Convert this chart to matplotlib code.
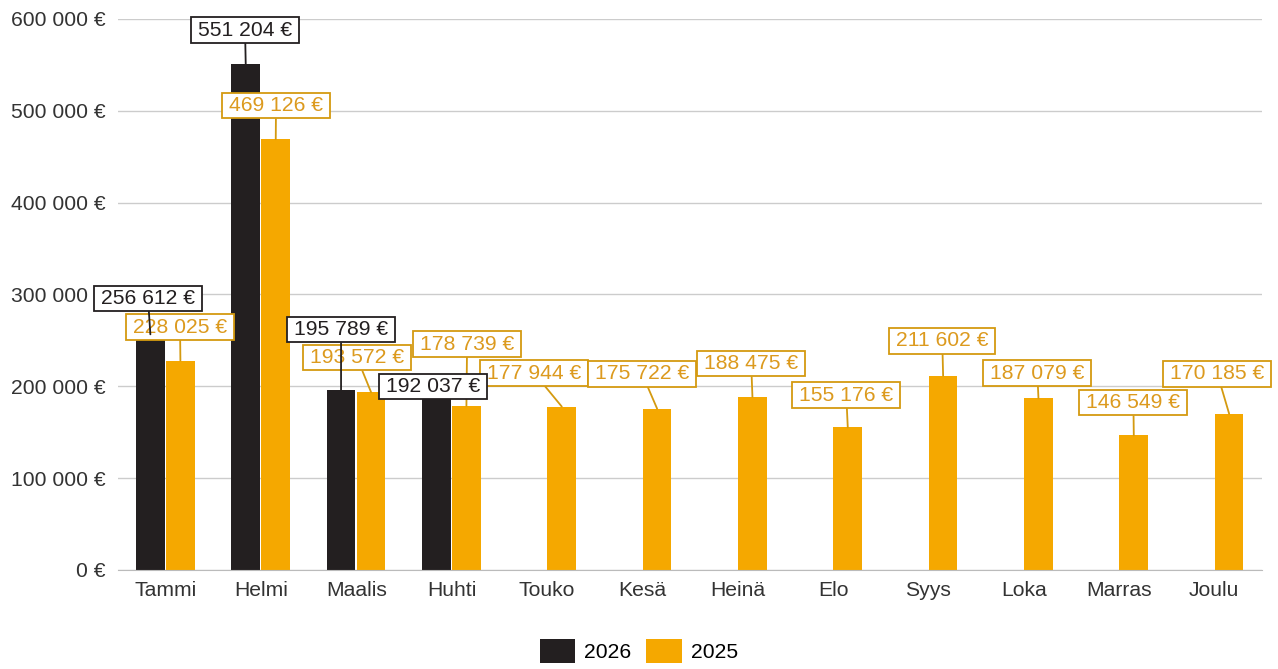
import numpy as np
import matplotlib
matplotlib.use("Agg")
from matplotlib import pyplot as plt

months = ["Tammi", "Helmi", "Maalis", "Huhti", "Touko", "Kesä",
          "Heinä", "Elo", "Syys", "Loka", "Marras", "Joulu"]
sales2026 = [256612, 551204, 195789, 192037]
sales2025 = [228025, 469126, 193572, 178739, 177944, 175722,
             188475, 155176, 211602, 187079, 146549, 170185]
yticks = [0, 100000, 200000, 300000, 400000, 500000, 600000]

# where the value boxes sit (x in category units, y in euros)
pos2026 = [(-0.185, 296000), (0.833, 588000), (1.84, 261500), (2.805, 199500)]
pos2025 = [(0.151, 264500), (1.158, 505500), (2.008, 231000), (3.162, 246000),
           (3.865, 214500), (4.998, 213500), (6.142, 224500), (7.139, 190500),
           (8.146, 249500), (9.143, 214500), (10.151, 182000), (11.032, 213500)]

BLACK = "#231f20"
ORANGE = "#f5a800"
ORANGE_TXT = "#dc9a1e"
FS = 15.2


def fmt(v):
    return "{:,}".format(v).replace(",", " ") + " €"


plt.rcParams['font.family'] = ['Liberation Sans', 'DejaVu Sans']

fig = plt.figure(figsize=(12.78, 6.69), dpi=100)
ax = fig.add_axes([0.0923, 0.148, 0.8952, 0.8236])

x = np.arange(len(months))
w = 0.3
ax.bar(x[:len(sales2026)] - 0.16, sales2026, w, color=BLACK, label="2026", zorder=2)
ax.bar(x + 0.155, sales2025, w, color=ORANGE, label="2025", zorder=2)

ax.set_xlim(-0.5, 11.5)
ax.set_ylim(0, 600000)
ax.set_yticks(yticks)
ax.set_yticklabels([fmt(v) for v in yticks])
ax.set_xticks(x)
ax.set_xticklabels(months)
ax.tick_params(length=0, labelsize=FS, colors="#333333")
ax.tick_params(axis="y", pad=9)
ax.tick_params(axis="x", pad=8)
ax.grid(axis="y", color="#cccccc", linewidth=1, zorder=0)
for s in ["top", "right", "left"]:
    ax.spines[s].set_visible(False)
ax.spines["bottom"].set_color("#bbbbbb")

for i, v in enumerate(sales2025):
    ax.annotate(fmt(v), xy=(i + 0.155, v), xytext=pos2025[i], ha="center", va="center",
                fontsize=FS, color=ORANGE_TXT, zorder=4,
                bbox=dict(boxstyle="square,pad=0.33", mutation_aspect=0.45,
                          fc="white", ec="#d49a10", lw=1.3),
                arrowprops=dict(arrowstyle="-", color="#d49a10", lw=1.3, shrinkA=0, shrinkB=0))
for i, v in enumerate(sales2026):
    ax.annotate(fmt(v), xy=(i - 0.16, v), xytext=pos2026[i], ha="center", va="center",
                fontsize=FS, color=BLACK, zorder=5,
                bbox=dict(boxstyle="square,pad=0.33", mutation_aspect=0.45,
                          fc="white", ec=BLACK, lw=1.3),
                arrowprops=dict(arrowstyle="-", color=BLACK, lw=1.3, shrinkA=0, shrinkB=0))

leg = fig.legend(loc="center", bbox_to_anchor=(0.5, 0.027), ncol=2, frameon=False,
                 fontsize=FS, handlelength=1.7, handleheight=1.33, handletextpad=0.43,
                 columnspacing=0.7)

fig.savefig("out.png", dpi=100)
